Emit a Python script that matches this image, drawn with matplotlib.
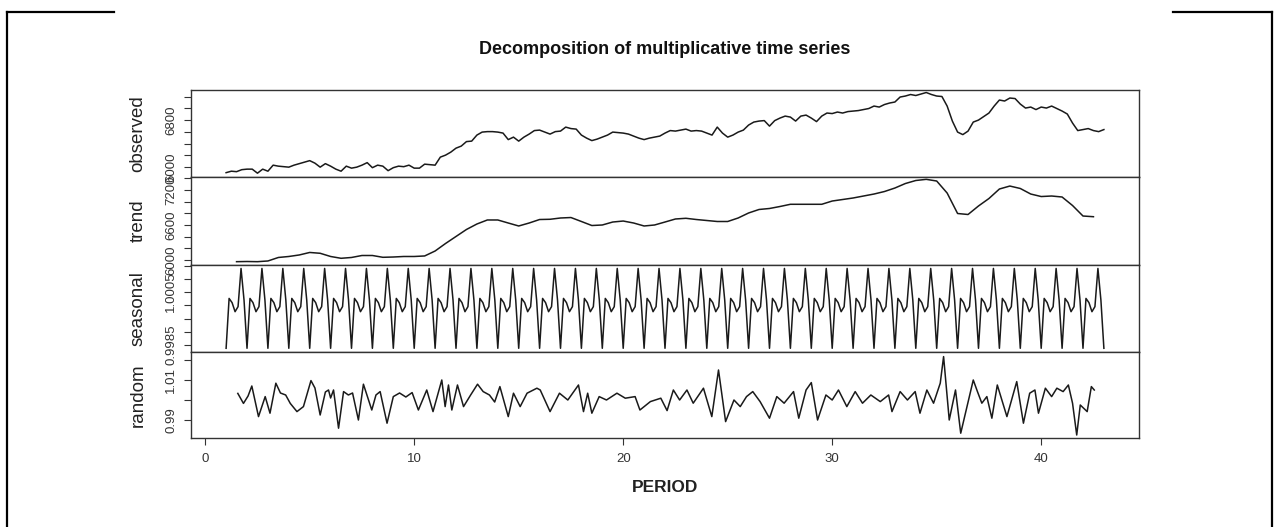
import matplotlib
matplotlib.use("Agg")
import matplotlib.pyplot as plt
import numpy as np
from matplotlib.lines import Line2D

plt.rcParams['font.family'] = ['Liberation Sans', 'DejaVu Sans']

# observed series, 4 readings per period, from period 1 to 43
observed = [5903, 5928, 5920, 5954,
            5963, 5963, 5894, 5963,
            5928, 6031, 6014, 6005,
            5997, 6031, 6057, 6082,
            6108, 6065, 5997, 6057,
            6014, 5963, 5928, 6014,
            5980, 5997, 6031, 6074,
            5988, 6031, 6014, 5937,
            5988, 6014, 6005, 6031,
            5980, 5980, 6048, 6040,
            6031, 6168, 6202, 6253,
            6321, 6356, 6433, 6441,
            6544, 6595, 6603, 6603,
            6595, 6578, 6467, 6509,
            6441, 6509, 6561, 6621,
            6629, 6595, 6561, 6603,
            6612, 6680, 6655, 6646,
            6544, 6492, 6450, 6475,
            6509, 6544, 6595, 6586,
            6578, 6561, 6527, 6492,
            6467, 6492, 6509, 6527,
            6578, 6621, 6612, 6629,
            6646, 6612, 6621, 6612,
            6578, 6544, 6680, 6578,
            6509, 6544, 6595, 6629,
            6715, 6766, 6783, 6791,
            6697, 6791, 6834, 6868,
            6851, 6783, 6868, 6885,
            6834, 6774, 6868, 6920,
            6911, 6937, 6920, 6945,
            6954, 6962, 6979, 6997,
            7039, 7022, 7065, 7091,
            7108, 7193, 7210, 7236,
            7219, 7244, 7270, 7236,
            7210, 7202, 7039, 6783,
            6595, 6552, 6612, 6766,
            6800, 6860, 6920, 7039,
            7142, 7125, 7176, 7167,
            7073, 7005, 7022, 6979,
            7022, 7005, 7039, 6997,
            6954, 6903, 6749, 6621,
            6638, 6655, 6621, 6603,
            6638]

# trend, every half period from 1.5 to 42.5
trend = [5971, 5974, 5971, 5983, 6043, 6060, 6086, 6129, 6115, 6060,
         6029, 6043, 6077, 6077, 6046, 6051, 6060, 6060, 6069, 6154,
         6283, 6403, 6523, 6617, 6686, 6686, 6634, 6583, 6634, 6694,
         6698, 6720, 6728, 6660, 6591, 6600, 6651, 6668, 6634, 6583,
         6600, 6651, 6703, 6715, 6694, 6677, 6660, 6660, 6720, 6806,
         6866, 6883, 6917, 6955, 6955, 6955, 6955, 7011, 7037, 7063,
         7097, 7131, 7174, 7234, 7311, 7363, 7383, 7354, 7148, 6797,
         6780, 6926, 7054, 7217, 7268, 7226, 7131, 7088, 7097, 7080,
         6934, 6754, 6742]

# seasonal figure (frequency 7), repeated every period
seasonal_figure = [0.99838, 1.00026, 1.00010, 0.99976, 0.99995, 1.00139, 1.00020]
n_seasonal = 295

# random component, turning points
random_time = [1.56, 1.83, 2.05, 2.23, 2.55, 2.87, 3.1, 3.38, 3.6, 3.85,
               4.07, 4.39, 4.7, 5.06, 5.25, 5.5, 5.75, 5.9, 6.0, 6.14,
               6.38, 6.62, 6.85, 7.05, 7.33, 7.57, 7.97, 8.17, 8.37, 8.7,
               9.0, 9.3, 9.6, 9.9, 10.2, 10.6, 10.9, 11.32, 11.48, 11.64,
               11.8, 12.07, 12.36, 12.7, 13.03, 13.3, 13.6, 13.85, 14.1, 14.5,
               14.75, 15.07, 15.4, 15.87, 16.03, 16.5, 16.95, 17.35, 17.86, 18.1,
               18.3, 18.5, 18.85, 19.2, 19.7, 20.1, 20.57, 20.8, 21.3, 21.8,
               22.1, 22.4, 22.7, 23.05, 23.35, 23.84, 24.24, 24.56, 24.9, 25.3,
               25.6, 25.9, 26.2, 26.55, 27.0, 27.35, 27.7, 28.15, 28.4, 28.75,
               29.0, 29.3, 29.7, 30.0, 30.3, 30.7, 31.1, 31.45, 31.85, 32.3,
               32.7, 32.86, 33.25, 33.6, 33.97, 34.2, 34.53, 34.85, 35.17, 35.33,
               35.6, 35.9, 36.15, 36.45, 36.75, 36.95, 37.16, 37.4, 37.64, 37.9,
               38.36, 38.83, 39.15, 39.45, 39.7, 39.87, 40.2, 40.5, 40.75, 41.05,
               41.3, 41.5, 41.7, 41.87, 42.2, 42.4, 42.54]
random_value = [1.0033, 0.9983, 1.0020, 1.0070, 0.9917, 1.0017, 0.9934, 1.0084, 1.0035, 1.0025,
                0.9983, 0.9942, 0.9967, 1.0097, 1.0060, 0.9925, 1.0040, 1.0050, 1.0010, 1.0050,
                0.9859, 1.0042, 1.0025, 1.0035, 0.9900, 1.0079, 0.9950, 1.0025, 1.0042, 0.9884,
                1.0017, 1.0035, 1.0015, 1.0037, 0.9950, 1.0050, 0.9942, 1.0100, 0.9967, 1.0075,
                0.9950, 1.0075, 0.9967, 1.0025, 1.0079, 1.0042, 1.0025, 0.9990, 1.0067, 0.9917,
                1.0034, 0.9967, 1.0034, 1.0059, 1.0050, 0.9942, 1.0034, 1.0000, 1.0075, 0.9942,
                1.0034, 0.9934, 1.0017, 1.0000, 1.0034, 1.0009, 1.0017, 0.9950, 0.9992, 1.0009,
                0.9947, 1.0050, 1.0000, 1.0050, 0.9984, 1.0059, 0.9917, 1.0150, 0.9892, 1.0000,
                0.9967, 1.0017, 1.0042, 0.9992, 0.9909, 1.0017, 0.9984, 1.0042, 0.9909, 1.0050,
                1.0087, 0.9900, 1.0025, 1.0000, 1.0050, 0.9967, 1.0042, 0.9984, 1.0025, 0.9992,
                1.0025, 0.9942, 1.0042, 1.0000, 1.0042, 0.9934, 1.0050, 0.9984, 1.0084, 1.0217,
                0.9900, 1.0050, 0.9834, 0.9967, 1.0100, 1.0042, 0.9984, 1.0017, 0.9909, 1.0075,
                0.9917, 1.0092, 0.9884, 1.0034, 1.0050, 0.9934, 1.0059, 1.0017, 1.0059, 1.0042,
                1.0075, 0.9984, 0.9825, 0.9975, 0.9942, 1.0067, 1.0050]

t_obs = 1 + 0.25 * np.arange(len(observed))
t_trend = 1.5 + 0.5 * np.arange(len(trend))
t_seas = 1 + np.arange(n_seasonal) / 7
seasonal = np.tile(seasonal_figure, n_seasonal // 7 + 1)[:n_seasonal]

W, H = 1277, 527
fig = plt.figure(figsize=(W / 100, H / 100), dpi=100)

left, right = 191, 1139
panels = [(90, 177), (177, 265), (265, 352), (352, 438)]
names = ['observed', 'trend', 'seasonal', 'random']
series = [(t_obs, observed), (t_trend, trend), (t_seas, seasonal), (random_time, random_value)]
ylims = [(5829, 7313), (5914, 7423), (0.99824, 1.00152), (0.981, 1.024)]
yticks = [np.arange(6000, 7201, 200), np.arange(6000, 7401, 200),
          [0.9985, 0.9990, 0.9995, 1.0000, 1.0005, 1.0010, 1.0015],
          [0.99, 1.00, 1.01, 1.02]]
ylabs = [['6000', '', '', '', '6800', '', ''],
         ['6000', '', '', '6600', '', '', '7200', ''],
         ['0.9985', '', '', '', '1.0005', '', ''],
         ['0.99', '', '1.01', '']]

axes = []
for i, (top, bot) in enumerate(panels):
    ax = fig.add_axes([left / W, 1 - bot / H, (right - left) / W, (bot - top) / H])
    x, y = series[i]
    ax.plot(x, y, color='#1a1a1a', lw=1.1)
    ax.set_xlim(-0.68, 44.68)
    ax.set_ylim(*ylims[i])
    ax.set_yticks(yticks[i])
    ax.set_yticklabels(ylabs[i])
    ax.tick_params(axis='y', direction='out', length=5, width=0.8, pad=5,
                   labelsize=9.5, labelrotation=90, colors='#333')
    for lbl in ax.get_yticklabels():
        lbl.set_va('center')
    for s in ax.spines.values():
        s.set_color('#333')
        s.set_linewidth(1.0)
    if i < 3:
        ax.set_xticks([])
    else:
        ax.set_xticks([0, 10, 20, 30, 40])
        ax.tick_params(axis='x', direction='out', length=5, width=0.8, pad=6,
                       labelsize=9.5, colors='#333')
    fig.text(138 / W, 1 - (top + bot) / 2 / H, names[i], rotation=90,
             ha='center', va='center', fontsize=13.5, color='#222')
    axes.append(ax)

fig.text(665 / W, 1 - 49 / H, 'Decomposition of multiplicative time series',
         ha='center', va='center', fontsize=13, fontweight='bold', color='#111')
fig.text(665 / W, 1 - 487 / H, 'PERIOD', ha='center', va='center',
         fontsize=12.5, fontweight='bold', color='#222')

# page frame around the picture
y_top = 1 - 12 / H
fx_l, fx_r = 7 / W, 1272 / W
frame = [([fx_l, fx_l], [0, y_top]), ([fx_r, fx_r], [0, y_top]),
         ([fx_l, 114 / W], [y_top, y_top]), ([1173 / W, fx_r], [y_top, y_top])]
for xs, ys in frame:
    fig.add_artist(Line2D(xs, ys, transform=fig.transFigure, color='black', lw=1.6))

fig.savefig('out.png', dpi=100)
